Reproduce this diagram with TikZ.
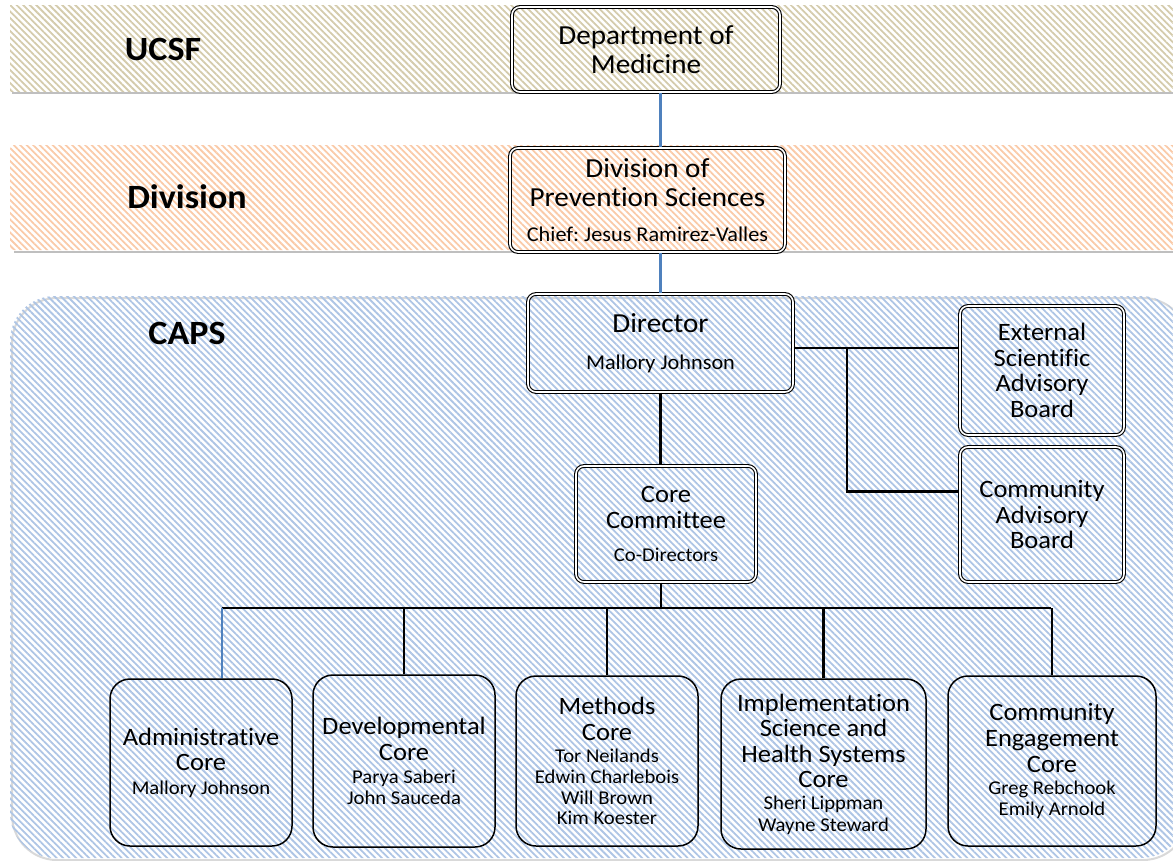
\documentclass[tikz,border=0pt]{standalone}
\usepackage{fontspec}
\setmainfont{Carlito}[FakeStretch=1.06,Ligatures={NoCommon}]
\frenchspacing
\usetikzlibrary{patterns.meta}
\definecolor{beigeL}{RGB}{212,203,172}
\definecolor{peachL}{RGB}{250,202,168}
\definecolor{blueL}{RGB}{174,197,229}
\definecolor{connblue}{RGB}{79,129,189}
\newcommand\fH{\fontsize{34}{40}\selectfont\bfseries}
\newcommand\fT{\fontsize{27.5}{29.5}\selectfont}
\newcommand\fTs{\fontsize{21}{24}\selectfont}
\newcommand\fB{\fontsize{25}{25.6}\selectfont}
\newcommand\fN{\fontsize{19.5}{20.8}\selectfont}
\tikzset{
  hatch/.style={pattern={Lines[angle=-45,distance=4.6pt,line width=1.8pt]},pattern color=#1},
  topbox/.style={draw=black,line width=1.1pt,double=white,double distance=1.6pt,rounded corners=8pt,
    inner sep=0pt,align=center,font=\fT},
  corebox/.style={draw=black,line width=1.5pt,rounded corners=20pt,inner sep=0pt,align=center,font=\fB},
  conn/.style={draw=black,line width=2.6pt},
  bconn/.style={draw=connblue,line width=2.6pt},
  bandlabel/.style={font=\fH,inner sep=0pt}
}
\begin{document}
\begin{tikzpicture}[x=1pt,y=-1pt]
\useasboundingbox (0,0) rectangle (1173,860);
% bands
\draw[black!25,line width=2pt] (12,93) -- (1173,93);
\fill[hatch=beigeL] (10,5) rectangle (1180,91);
\draw[black!25,line width=2pt] (14,252) -- (1173,252);
\fill[hatch=peachL,rounded corners=4pt] (10,145) rectangle (1180,250);
\draw[black!15,line width=2pt,rounded corners=45pt] (12,298) rectangle (1188,860);
\fill[hatch=blueL,rounded corners=45pt] (10,296) rectangle (1186,858);
\node[bandlabel] (ucsf) at (163,49) {UCSF};
\node[bandlabel] (division) at (187,197) {Division};
\node[bandlabel] (caps) at (187,333) {CAPS};
% top boxes
\node[topbox,minimum width=268pt,minimum height=85pt] (dept) at (646,49.5) {Department of\\Medicine};
\node[topbox,minimum width=275pt,minimum height=104pt] (div) at (647.5,200)
  {Division of\\Prevention Sciences\\[5pt]\fTs Chief: Jesus Ramirez-Valles};
\node[topbox,minimum width=265pt,minimum height=98pt] (dir) at (660.5,343)
  {Director\\[8pt]\fTs Mallory Johnson};
\node[topbox,font=\fB,minimum width=164pt,minimum height=129pt] (esab) at (1042,370.5)
  {External\\Scientific\\Advisory\\Board};
\node[topbox,font=\fB,minimum width=164pt,minimum height=135pt] (cab) at (1042,514.5)
  {Community\\Advisory\\Board};
\node[topbox,font=\fB,minimum width=180pt,minimum height=116pt] (cc) at (666,524)
  {Core\\Committee\\[7pt]\fN Co-Directors};
% core boxes
\node[corebox,minimum width=182pt,minimum height=167pt] (adm) at (201,762.5)
  {Administrative\\Core\\[-2pt]\fN Mallory Johnson};
\node[corebox,minimum width=182pt,minimum height=172pt] (dev) at (404,761)
  {Developmental\\Core\\[-3pt]\fN Parya Saberi\\[-4.5pt]\fN John Sauceda};
\node[corebox,minimum width=182pt,minimum height=170pt] (met) at (607,761)
  {Methods\\Core\\[-3pt]\fN Tor Neilands\\[-5pt]\fN Edwin Charlebois\\[-5pt]\fN Will Brown\\[-5pt]\fN Kim Koester};
\node[corebox,minimum width=205pt,minimum height=170pt] (imp) at (823.5,764)
  {Implementation\\Science and\\Health Systems\\Core\\[-4pt]\fN Sheri Lippman\\[-4pt]\fN Wayne Steward};
\node[corebox,minimum width=208pt,minimum height=170pt] (ce) at (1052,761)
  {Community\\Engagement\\Core\\[-3.5pt]\fN Greg Rebchook\\[-4.5pt]\fN Emily Arnold};
% connectors
\draw[bconn] (dept.south -| dir.north) -- (div.north -| dir.north);
\draw[bconn] (div.south -| dir.north) -- (dir.north);
\draw[conn] (dir.south) -- (dir.south |- cc.north);
\coordinate (j) at (847,348);
\draw[conn] ([yshift=-5pt]dir.east) -- ([yshift=-5pt]dir.east -| esab.west);
\draw[conn] (j) |- ([yshift=23pt]cab.west);
\coordinate (barL) at (222,608);
\coordinate (barR) at (1051,608);
\coordinate (ccdrop) at (661,608);
\draw[conn] (cc.south -| ccdrop) -- (ccdrop);
\draw[conn] (barL) -- (barR);
\draw[bconn] ([xshift=21pt]adm.north) -- (barL);
\draw[conn] (dev.north) -- (dev.north |- barL);
\draw[conn] (met.north) -- (met.north |- barL);
\draw[conn] (imp.north) -- (imp.north |- barL);
\draw[conn] (ce.north) -- (ce.north |- barR);
\end{tikzpicture}
\end{document}
